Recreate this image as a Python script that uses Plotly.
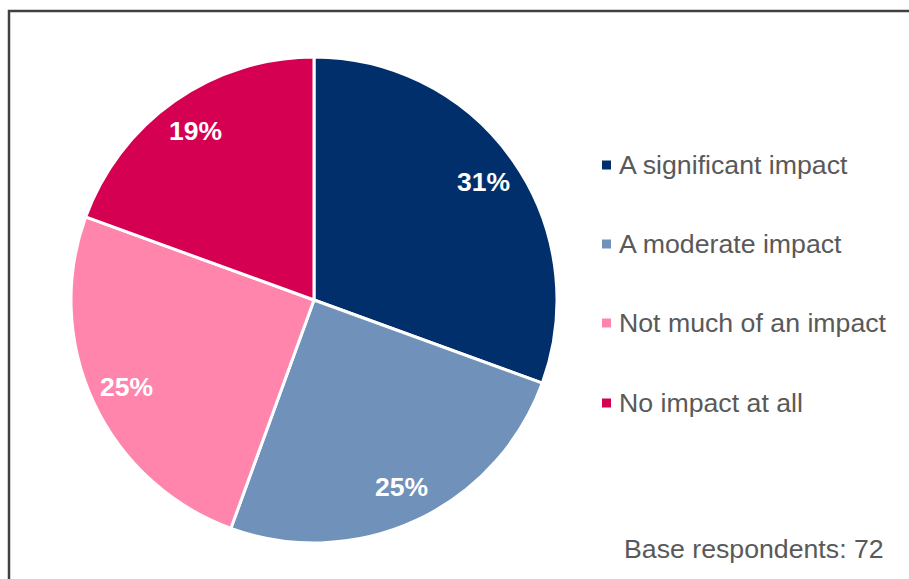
import math
import plotly.graph_objects as go

# Survey responses (counts of respondents)
categories = ["A significant impact", "A moderate impact",
              "Not much of an impact", "No impact at all"]
counts = [22, 18, 18, 14]
colors = ["#002F6C", "#7091BA", "#FF85AD", "#D50052"]

W, H = 909, 579
total = sum(counts)

# Pie geometry in pixels
cx, cy, r = 314, 300, 243
FONT = "Liberation Sans, Arial"

fig = go.Figure(go.Pie(
    labels=categories,
    values=counts,
    sort=False,
    direction="clockwise",
    rotation=0,
    marker=dict(colors=colors, line=dict(color="white", width=3)),
    textinfo="none",
    hoverinfo="label+percent",
    showlegend=False,
    domain=dict(x=[(cx - r) / W, (cx + r) / W],
                y=[1 - (cy + r) / H, 1 - (cy - r) / H]),
))

shapes = []
annotations = []

# Percentage labels placed along each slice's middle angle
cum = 0
for v in counts:
    mid = (cum + v / 2) / total * 2 * math.pi
    cum += v
    px = cx + 0.85 * r * math.sin(mid)
    py = cy - 0.85 * r * math.cos(mid)
    annotations.append(dict(
        x=px / W, y=1 - py / H, xref="paper", yref="paper",
        xanchor="center", yanchor="middle",
        text=f"<b>{round(100 * v / total)}%</b>", showarrow=False,
        font=dict(family=FONT, size=26.5, color="white"),
    ))

# Legend: small colour squares with labels
legend_y = [165, 244, 323, 403]
for name, col, ly in zip(categories, colors, legend_y):
    shapes.append(dict(type="rect", xref="paper", yref="paper",
                       x0=602 / W, x1=611 / W,
                       y0=1 - (ly + 4.5) / H, y1=1 - (ly - 4.5) / H,
                       fillcolor=col, line=dict(width=0)))
    annotations.append(dict(
        x=617 / W, y=1 - ly / H, xref="paper", yref="paper",
        xanchor="left", yanchor="middle", text=name, showarrow=False,
        font=dict(family=FONT, size=26.7, color="#595959"),
    ))

annotations.append(dict(
    x=886 / W, y=1 - 549 / H, xref="paper", yref="paper",
    xanchor="right", yanchor="middle",
    text=f"Base respondents: {total}", showarrow=False,
    font=dict(family=FONT, size=26.7, color="#595959"),
))

# Frame around the chart area
shapes.append(dict(type="rect", xref="paper", yref="paper",
                   x0=9 / W, x1=930 / W, y0=1 - 600 / H, y1=1 - 11 / H,
                   line=dict(color="#404040", width=2.5), layer="below"))

fig.update_layout(
    width=W, height=H,
    margin=dict(l=0, r=0, t=0, b=0),
    paper_bgcolor="white",
    plot_bgcolor="white",
    shapes=shapes,
    annotations=annotations,
)

fig.write_html("out.html")
